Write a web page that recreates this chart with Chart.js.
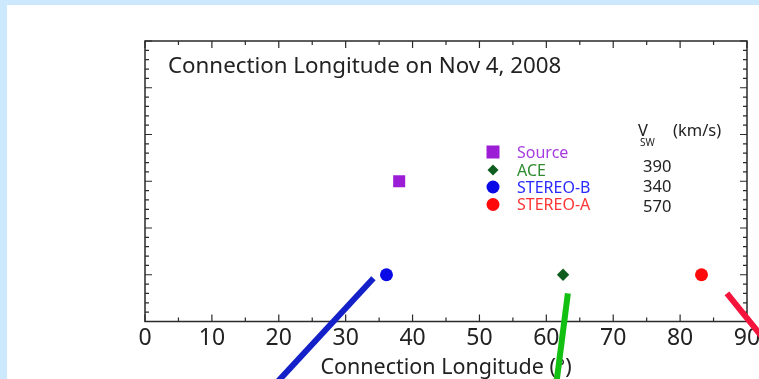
<!DOCTYPE html>
<html>
<head>
<meta charset="utf-8">
<script src="https://cdn.jsdelivr.net/npm/chart.js@4"></script>
<style>
  html, body { margin: 0; padding: 0; background: #cce8fd; overflow: hidden; }
  #wrap { position: absolute; left: 7px; top: 5px; width: 752px; height: 374px; background: #fff; }
</style>
</head>
<body>
<div id="wrap"><canvas id="chart" width="752" height="374"></canvas></div>
<script>
// spacecraft connection longitudes (deg) and vertical level in the plot
const names = ['Source', 'ACE', 'STEREO-B', 'STEREO-A'];
const longitudes = [38, 62.5, 36.1, 83.2];
const levels = [3, 1, 1, 1];
const vsw = ['', '390', '340', '570'];
const markerColors = ['#9b1ed6', '#0f5e1f', '#0a0ae6', '#ff0a0a'];
const textColors = ['#a63ce0', '#2e8b2e', '#2a2aff', '#ff3535'];
const markerStyles = ['rect', 'rectRot', 'circle', 'circle'];
const markerSizes = [8.5, 6.2, 6.5, 6.5];

// Parker spiral field-line segments
const lineNames = ['STEREO-B', 'ACE', 'STEREO-A'];
const lineX = [[34.15, 19.1], [63.22, 61.43], [87.0, 95]];
const lineY = [[0.924, -1.4], [0.603, -1.4], [0.603, -0.813]];
const lineColors = ['#1420c8', '#12c012', '#f5143c'];

const xMin = 0, xMax = 90, yMin = 0, yMax = 6;
const FONT = "'Noto Sans', 'DejaVu Sans', sans-serif";

const datasets = [];
lineNames.forEach((n, i) => {
  datasets.push({
    label: n + ' field line',
    data: lineX[i].map((x, j) => ({ x: x, y: lineY[i][j] })),
    showLine: true,
    borderColor: lineColors[i],
    borderWidth: 6,
    borderCapStyle: 'butt',
    pointRadius: 0,
    clip: false
  });
});
names.forEach((n, i) => {
  datasets.push({
    label: n,
    data: [{ x: longitudes[i], y: levels[i] }],
    pointStyle: markerStyles[i],
    pointRadius: markerSizes[i],
    backgroundColor: markerColors[i],
    borderColor: markerColors[i],
    borderWidth: 0
  });
});

const frame = {
  id: 'frame',
  beforeDatasetsDraw(chart) {
    const { ctx, chartArea: a, scales: { x, y } } = chart;
    ctx.save();
    ctx.strokeStyle = '#2a2a2a';
    ctx.lineWidth = 1.5;
    ctx.strokeRect(a.left, a.top, a.right - a.left, a.bottom - a.top);
    ctx.lineWidth = 1.2;
    ctx.beginPath();
    for (let v = xMin; v <= xMax; v += 5) {
      const px = x.getPixelForValue(v);
      const len = v % 10 === 0 ? 7 : 4;
      ctx.moveTo(px, a.bottom); ctx.lineTo(px, a.bottom - len);
      ctx.moveTo(px, a.top); ctx.lineTo(px, a.top + len);
    }
    for (let k = 0; k <= (yMax - yMin) * 5; k++) {
      const v = yMin + k / 5;
      const py = y.getPixelForValue(v);
      const len = k % 5 === 0 ? 7 : 4;
      ctx.moveTo(a.left, py); ctx.lineTo(a.left + len, py);
      ctx.moveTo(a.right, py); ctx.lineTo(a.right - len, py);
    }
    ctx.stroke();

    // title inside the plot
    ctx.fillStyle = '#222';
    ctx.textBaseline = 'middle';
    ctx.font = '22.3px ' + FONT;
    ctx.fillText('Connection Longitude on Nov 4, 2008', 161, 62);

    // legend
    const rows = [147, 165, 182, 199.5];
    ctx.font = '16px ' + FONT;
    names.forEach((n, i) => {
      const mx = 486, my = rows[i];
      ctx.fillStyle = markerColors[i];
      ctx.beginPath();
      if (markerStyles[i] === 'rect') ctx.rect(mx - 6.5, my - 6.5, 13, 13);
      else if (markerStyles[i] === 'rectRot') {
        ctx.moveTo(mx, my - 5.5); ctx.lineTo(mx + 5.5, my); ctx.lineTo(mx, my + 5.5); ctx.lineTo(mx - 5.5, my); ctx.closePath();
      } else ctx.arc(mx, my, 6.5, 0, Math.PI * 2);
      ctx.fill();
      ctx.fillStyle = textColors[i];
      ctx.fillText(n, 510, my + 1);
    });

    // solar wind speed column
    ctx.fillStyle = '#222';
    ctx.font = '16.5px ' + FONT;
    ctx.fillText('V', 631, 126);
    ctx.font = '10px ' + FONT;
    ctx.fillText('SW', 633, 138);
    ctx.font = '16.5px ' + FONT;
    ctx.fillText('(km/s)', 666, 126);
    const vRows = [0, 162, 182, 202];
    vsw.forEach((v, i) => { if (v) ctx.fillText(v, 636, vRows[i]); });
    ctx.restore();
  }
};

new Chart(document.getElementById('chart'), {
  type: 'scatter',
  data: { datasets: datasets },
  options: {
    responsive: false,
    animation: false,
    devicePixelRatio: 1,
    layout: { padding: { left: 138, right: 12, top: 36, bottom: 0 } },
    plugins: { legend: { display: false }, tooltip: { enabled: false } },
    scales: {
      x: {
        type: 'linear', min: xMin, max: xMax,
        grid: { display: false, drawTicks: false },
        border: { display: false },
        ticks: { stepSize: 10, padding: 3, color: '#222', font: { family: FONT, size: 23 } },
        title: { display: true, text: 'Connection Longitude (°)', color: '#222', padding: { top: 0, bottom: 0.5 }, font: { family: FONT, size: 21.5, lineHeight: 1 } },
        afterFit(s) { s.height = 57.5; s.paddingLeft = 0; s.paddingRight = 0; }
      },
      y: { type: 'linear', min: yMin, max: yMax, display: false }
    }
  },
  plugins: [frame]
});
</script>
</body>
</html>
